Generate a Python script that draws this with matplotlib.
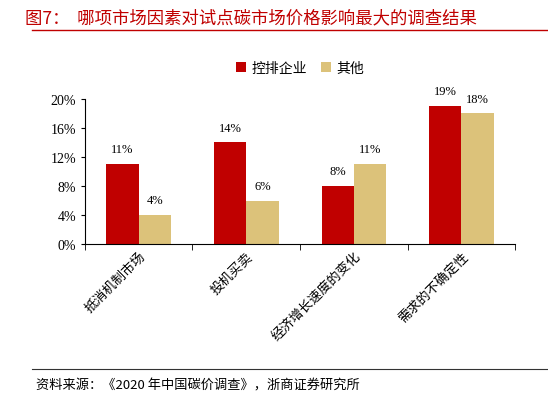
import matplotlib
matplotlib.use("Agg")
import matplotlib.pyplot as plt
import numpy as np

plt.rcParams['font.family'] = ['Noto Sans CJK SC', 'DejaVu Sans']

categories = ["抵消机制市场", "投机买卖", "经济增长速度的变化", "需求的不确定性"]
series1 = [11, 14, 8, 19]
series2 = [4, 6, 11, 18]
names = ["控排企业", "其他"]
colors = ["#C00000", "#DCC27A"]

fig = plt.figure(figsize=(5.48, 4.02), dpi=100)
ax = fig.add_axes([0.155, 0.39, 0.785, 0.362])
x = np.arange(len(categories))
w = 0.3
for i, (vals, nm, c) in enumerate(zip([series1, series2], names, colors)):
    bars = ax.bar(x + (i - 0.5) * w, vals, w, color=c, label=nm)
    for b, v in zip(bars, vals):
        ax.text(b.get_x() + b.get_width() / 2, v + 1.2, f"{v}%", ha="center", va="bottom",
                fontsize=9, family="Liberation Serif")

ax.set_ylim(0, 20)
ax.set_yticks(range(0, 21, 4))
ax.set_yticklabels([f"{t}%" for t in range(0, 21, 4)], fontsize=10, family="Liberation Serif")
ax.set_xlim(-0.5, 3.5)
ax.set_xticks(x)
ax.set_xticklabels(categories, rotation=45, ha="right", rotation_mode="anchor", fontsize=9.5)
ax.set_xticks(np.arange(-0.5, 4, 1), minor=True)
ax.tick_params(axis="x", which="major", length=0)
ax.tick_params(axis="x", which="minor", length=4, direction="out")
ax.tick_params(axis="y", length=3)
for s in ["top", "right"]:
    ax.spines[s].set_visible(False)
ax.legend(loc="lower center", bbox_to_anchor=(0.5, 1.08), ncol=2, frameon=False,
          fontsize=10, handlelength=0.7, handleheight=0.7, columnspacing=1.0, handletextpad=0.4)

fig.text(0.045, 0.955, "图7：  哪项市场因素对试点碳市场价格影响最大的调查结果", color="#C00000",
         fontsize=12.5, va="center")
fig.add_artist(plt.Line2D([0.058, 1.0], [0.923, 0.923], color="#C00000", lw=1))
fig.add_artist(plt.Line2D([0.058, 1.0], [0.08, 0.08], color="#333333", lw=0.8))
fig.text(0.065, 0.04, "资料来源：《2020 年中国碳价调查》，浙商证券研究所", fontsize=9.5, va="center")

fig.savefig("out.png", dpi=100)
